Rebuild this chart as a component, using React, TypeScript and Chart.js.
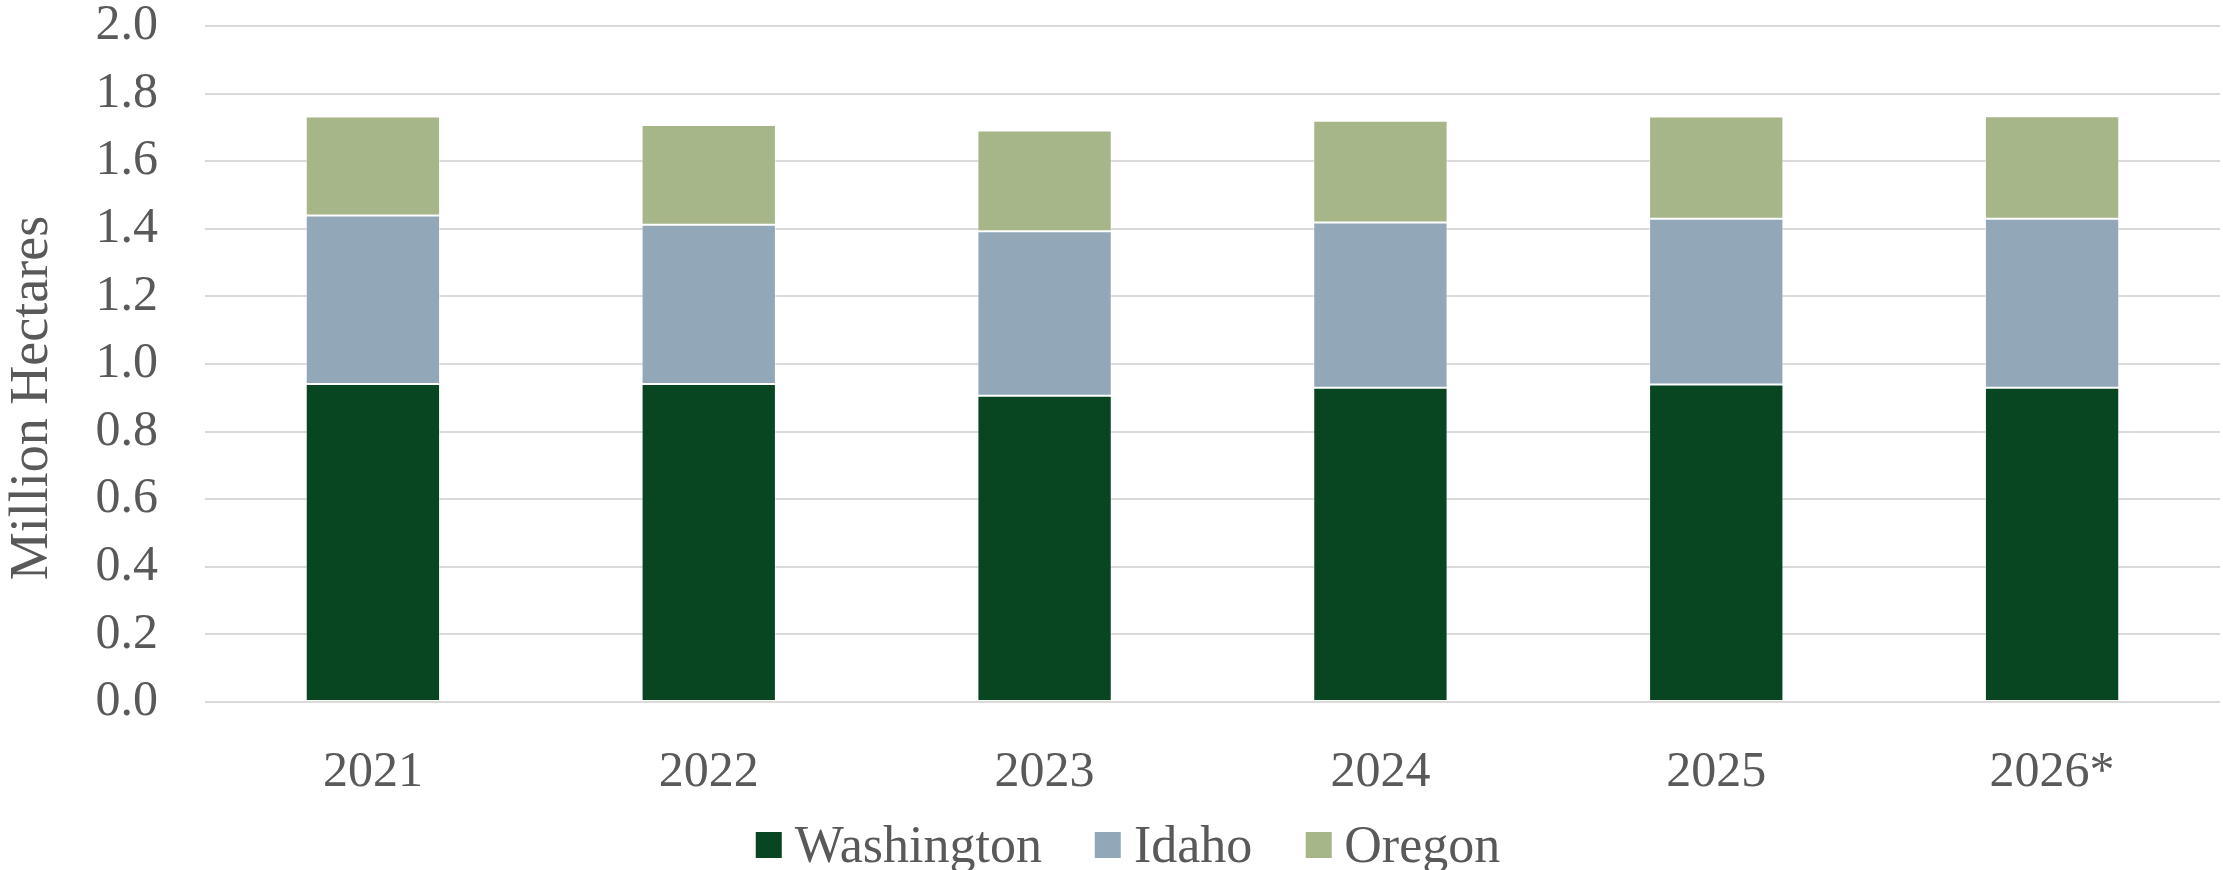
import React, { useEffect, useRef } from "react";
import { Chart, registerables } from "chart.js";

Chart.register(...registerables);

const categories = ["2021", "2022", "2023", "2024", "2025", "2026*"];
const washington = [0.941, 0.941, 0.906, 0.93, 0.939, 0.93];
const idaho = [0.498, 0.471, 0.487, 0.489, 0.491, 0.5];
const oregon = [0.293, 0.295, 0.298, 0.301, 0.302, 0.303];
const seriesNames = ["Washington", "Idaho", "Oregon"];
const seriesColors = ["#074620", "#92A8B8", "#A7B688"];
const yAxisTitle = "Million Hectares";
const yMin = 0;
const yMax = 2.0;
const yStep = 0.2;

const FONT = "'Liberation Serif', 'Times New Roman', serif";
const TEXT = "#595959";

const yTitlePlugin = {
  id: "yTitlePlugin",
  afterDraw(chart: any) {
    const ctx = chart.ctx;
    ctx.save();
    ctx.font = `54px ${FONT}`;
    ctx.fillStyle = TEXT;
    ctx.textAlign = "center";
    ctx.textBaseline = "middle";
    ctx.translate(33, 398);
    ctx.rotate(-Math.PI / 2);
    ctx.fillText(yAxisTitle, 0, 0);
    ctx.restore();
  },
};

export default function App() {
  const canvasRef = useRef<HTMLCanvasElement | null>(null);

  useEffect(() => {
    if (!canvasRef.current) return;
    const values = [washington, idaho, oregon];
    const chart = new Chart(canvasRef.current, {
      type: "bar",
      data: {
        labels: categories,
        datasets: seriesNames.map((name, i) => ({
          label: name,
          data: values[i],
          backgroundColor: seriesColors[i],
          borderColor: "rgba(255,255,255,0.55)",
          borderWidth: 1,
          borderSkipped: false,
          categoryPercentage: 1,
          barPercentage: 0.4,
        })),
      },
      options: {
        responsive: false,
        animation: false,
        layout: { padding: { top: 26, right: 3, bottom: 80, left: 0 } },
        plugins: {
          legend: { display: false },
          tooltip: { enabled: false },
        },
        scales: {
          x: {
            stacked: true,
            grid: { display: false },
            border: { display: false },
            ticks: {
              color: TEXT,
              font: { family: FONT, size: 50, lineHeight: 1 },
              padding: 38,
            },
            afterFit: (scale: any) => {
              scale.height = 88;
            },
          },
          y: {
            stacked: true,
            min: yMin,
            max: yMax,
            border: { display: false },
            grid: { color: "#d9d9d9", lineWidth: 2, drawTicks: false },
            ticks: {
              stepSize: yStep,
              color: TEXT,
              font: { family: FONT, size: 50, lineHeight: 1 },
              padding: 47,
              callback: (v: any) => Number(v).toFixed(1),
            },
            afterFit: (scale: any) => {
              scale.width = 205;
              scale.paddingTop = 25;
              scale.paddingBottom = 25;
            },
          },
        },
      },
      plugins: [yTitlePlugin],
    });
    return () => chart.destroy();
  }, []);

  return (
    <div style={{ position: "fixed", left: 0, top: 0, width: 2223, height: 870, background: "#fff", overflow: "hidden" }}>
      <canvas ref={canvasRef} width={2223} height={870} style={{ display: "block", width: 2223, height: 870 }} />
      <div
        style={{
          position: "absolute",
          left: 1128,
          top: 819,
          height: 52,
          transform: "translateX(-50%)",
          display: "flex",
          alignItems: "center",
          whiteSpace: "nowrap",
          fontFamily: FONT,
          fontSize: 52,
          lineHeight: 1,
          color: TEXT,
        }}
      >
        {seriesNames.map((name, i) => (
          <div key={name} style={{ display: "flex", alignItems: "center", marginLeft: i === 0 ? 0 : 53 }}>
            <span style={{ display: "inline-block", width: 26, height: 26, background: seriesColors[i], marginRight: 13 }} />
            <span>{name}</span>
          </div>
        ))}
      </div>
    </div>
  );
}
